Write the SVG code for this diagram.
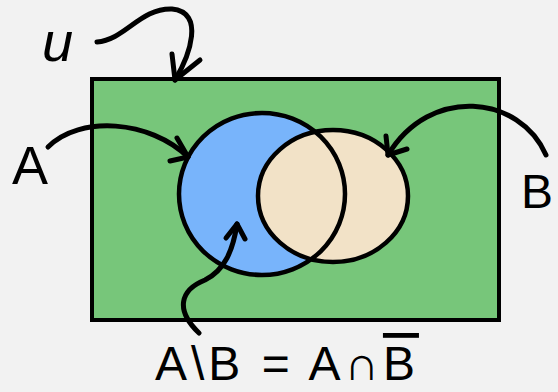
<svg xmlns="http://www.w3.org/2000/svg" width="558" height="392" viewBox="0 0 558 392">
<style>
.ln{fill:none;stroke:#000;stroke-width:5;stroke-linecap:round;stroke-linejoin:round}
.lbl{font-family:"Liberation Sans","DejaVu Sans",sans-serif;font-weight:normal;fill:#000}
</style>
<rect width="558" height="392" fill="#f2f2f2"/>
<g id="universe">
<rect x="92" y="79" width="407" height="241" fill="#77c67a" stroke="#000" stroke-width="4"/>
</g>
<g id="setA">
<ellipse cx="262" cy="194" rx="83" ry="81" fill="#78b4fb"/>
</g>
<g id="setB">
<ellipse cx="333" cy="196" rx="75" ry="66" fill="#f2e2c7" stroke="#000" stroke-width="4.5"/>
</g>
<ellipse cx="262" cy="194" rx="83" ry="81" fill="none" stroke="#000" stroke-width="4.5"/>
<g id="connectors">
<path class="ln" d="M97 42 C125 40 140 8 172 9 C205 12 190 55 175 80"/>
<path class="ln" d="M172 54 L175 80 L200 60"/>
<path class="ln" d="M48 147 C80 115 150 120 188 157"/>
<path class="ln" d="M177 138 L188 157 L170 161"/>
<path class="ln" d="M546 155 C520 95 430 85 388 155"/>
<path class="ln" d="M386 136 L388 155 L407 149"/>
<path class="ln" d="M199 333 C175 310 180 290 205 280 C225 270 233 250 237 224"/>
<path class="ln" d="M226 238 L237 224 L245 239"/>
</g>
<g id="labels">
<text class="lbl" x="42" y="61" font-size="56" font-style="italic">u</text>
<text class="lbl" x="12" y="184" font-size="54">A</text>
<text class="lbl" x="521" y="208" font-size="48">B</text>
<text class="lbl" x="155" y="380" font-size="48" letter-spacing="4">A\B = A∩<tspan style="text-decoration:overline">B</tspan></text>
</g>
</svg>
